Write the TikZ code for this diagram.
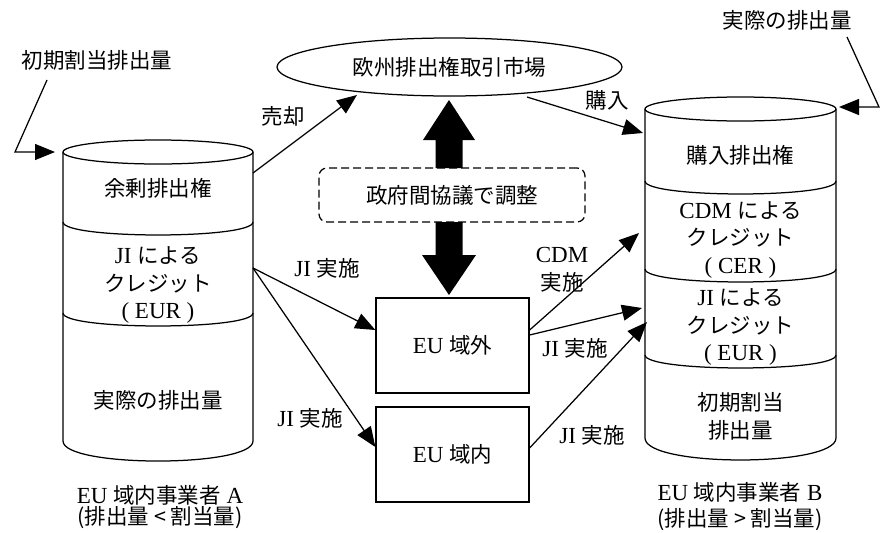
\documentclass[tikz,border=0pt]{standalone}
\usepackage{fontspec}
\setmainfont{Liberation Serif}[Scale=1.07]
\newfontfamily\jp{Noto Sans CJK JP}
\usetikzlibrary{arrows.meta,shapes.geometric}
\begin{document}
\begin{tikzpicture}[x=1pt,y=-1pt,line width=1.25pt,
  txt/.style={inner sep=0pt,font=\fontsize{21.5}{27.5}\selectfont,align=center},
  arr/.style={-{Triangle[length=20pt,width=16pt]},line width=1.25pt},
  box/.style={draw,line width=1.25pt,minimum width=153pt,minimum height=95pt,inner sep=0pt,font=\fontsize{21.5}{27.5}\selectfont},
  cyl/.style={line width=1.25pt}]
\useasboundingbox (0,0) rectangle (884,533);
\fill[white] (0,0) rectangle (884,533);

% market ellipse
\node[draw,ellipse,minimum width=345pt,minimum height=58pt,inner sep=0pt,font=\fontsize{21.5}{27.5}\selectfont] (market) at (449.5,67) {\jp 欧州排出権取引市場};

% government box
\node[draw,rounded corners=8pt,minimum width=266pt,minimum height=54pt,dash pattern=on 8pt off 4pt,font=\fontsize{21.5}{27.5}\selectfont] (gov) at (452,195) {\jp 政府間協議で調整};

% block arrows
\fill (435.5,168) -- (435.5,140) -- (423,140) -- (449,100) -- (475,140) -- (462.5,140) -- (462.5,168) -- cycle;
\fill (435.5,222) -- (435.5,255) -- (422,255) -- (449,295) -- (476,255) -- (462.5,255) -- (462.5,222) -- cycle;

% boxes
\node[box] (out) at (452.5,345.5) {EU {\jp 域外}};
\node[box] (in) at (452.5,454.5) {EU {\jp 域内}};

% left cylinder
\draw[cyl] (158,152) ellipse [x radius=95,y radius=12];
\draw[cyl] (63,152) -- (63,441) .. controls (63,467.7) and (253,467.7) .. (253,441) -- (253,152);
\draw[cyl] (63,222) .. controls (63,239.3) and (253,239.3) .. (253,222);
\draw[cyl] (63,313) .. controls (63,330.3) and (253,330.3) .. (253,313);
\node[txt] (a1) at (158,188) {\jp 余剰排出権};
\node[txt] (a2) at (158,285.5) {JI {\jp による}\\{\jp クレジット}\\( EUR )};
\node[txt] (a3) at (158,400) {\jp 実際の排出量};
\node[txt] (alab1) at (160,495) {EU {\jp 域内事業者} A};
\node[txt] (alab2) at (160,518) {\jp (排出量 < 割当量)};

% right cylinder
\draw[cyl] (740.5,109) ellipse [x radius=95.5,y radius=12];
\draw[cyl] (645,109) -- (645,438) .. controls (645,467.3) and (836,467.3) .. (836,438) -- (836,109);
\draw[cyl] (645,181) .. controls (645,198.3) and (836,198.3) .. (836,181);
\draw[cyl] (645,269) .. controls (645,286.3) and (836,286.3) .. (836,269);
\draw[cyl] (645,355) .. controls (645,372.3) and (836,372.3) .. (836,355);
\node[txt] (b1) at (740.5,155) {\jp 購入排出権};
\node[txt] (b2) at (740.5,240) {CDM {\jp による}\\{\jp クレジット}\\( CER )};
\node[txt] (b3) at (740.5,327.5) {JI {\jp による}\\{\jp クレジット}\\( EUR )};
\node[txt] (b4) at (740.5,416.5) {{\jp 初期割当}\\{\jp 排出量}};
\node[txt] (blab1) at (740,492) {EU {\jp 域内事業者} B};
\node[txt] (blab2) at (740,520) {\jp (排出量 > 割当量)};

% anchor coordinates
\coordinate (Asell) at (253,173);
\coordinate (Aji) at (253,268);
\coordinate (Mleft) at (357,95);
\coordinate (Mright) at (527,97);
\coordinate (Bbuy) at (643,133);
\coordinate (Bcdm) at (639,233);
\coordinate (Bji1) at (642,308);
\coordinate (Bji2) at (647,322);

% callouts
\node[txt] (initA) at (97,60) {\jp 初期割当排出量};
\node[txt] (actB) at (787,20) {\jp 実際の排出量};
\coordinate (cA1) at (47,80); \coordinate (cA2) at (15,152); \coordinate (cA3) at (55,152);
\coordinate (cB1) at (847,37); \coordinate (cB2) at (879,107); \coordinate (cB3) at (839,107);
\draw[arr] (cA1) -- (cA2) -- (cA3);
\draw[arr] (cB1) -- (cB2) -- (cB3);

% connectors
\draw[arr] (Asell) -- (Mleft);
\draw[arr] (Mright) -- (Bbuy);
\draw[arr] (Aji) -- ([yshift=15.5pt]out.west);
\draw[arr] (Aji) -- ([yshift=7.5pt]in.west);
\draw[arr] ([yshift=15.5pt]out.east) -- (Bcdm);
\draw[arr] ([yshift=10.5pt]out.east) -- (Bji1);
\draw[arr] ([yshift=6.5pt]in.east) -- (Bji2);

% labels
\node[txt] (l1) at (283,116) {\jp 売却};
\node[txt] (l2) at (607,100) {\jp 購入};
\node[txt] (l3) at (327,268) {JI {\jp 実施}};
\node[txt] (l4) at (310,418) {JI {\jp 実施}};
\node[txt] (l5) at (562,270) {CDM\\{\jp 実施}};
\node[txt] (l6) at (575,348) {JI {\jp 実施}};
\node[txt] (l7) at (592,435) {JI {\jp 実施}};
\end{tikzpicture}
\end{document}
